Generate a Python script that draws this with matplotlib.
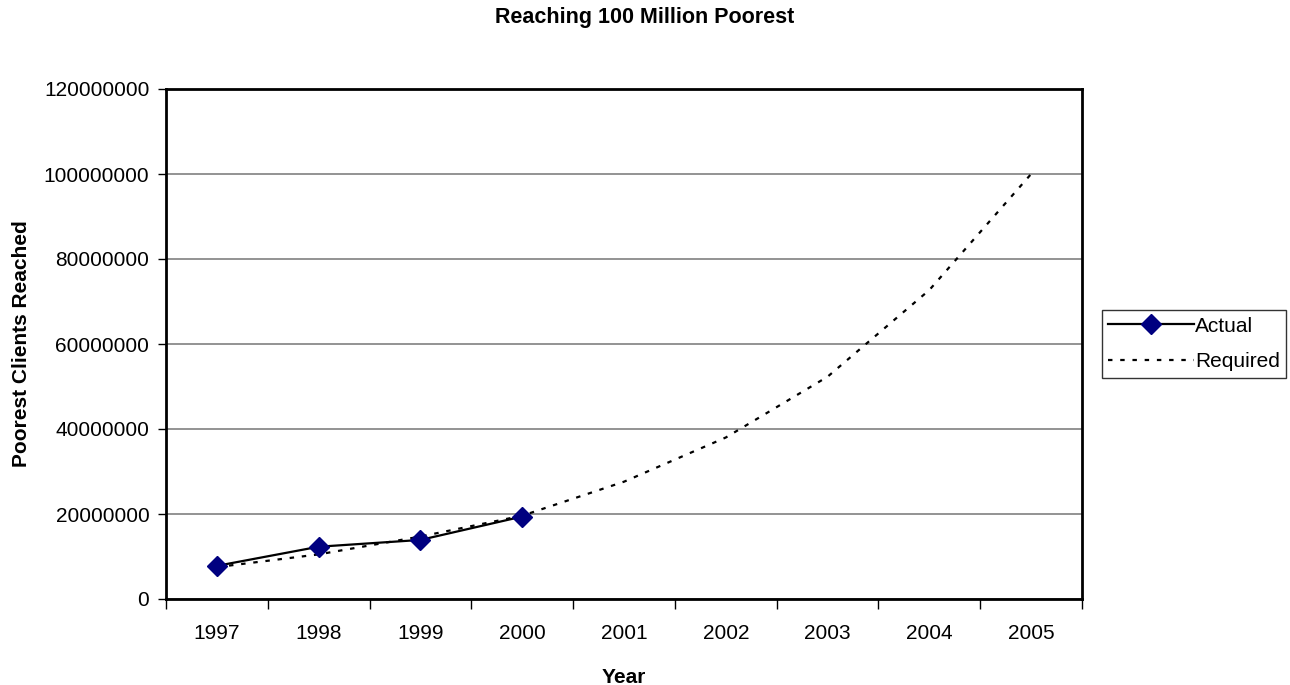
import matplotlib
matplotlib.use("Agg")
import matplotlib.pyplot as plt
from matplotlib.ticker import FixedLocator, NullFormatter

plt.rcParams["font.family"] = ["Liberation Sans", "DejaVu Sans"]

years = ["1997", "1998", "1999", "2000", "2001", "2002", "2003", "2004", "2005"]
actual = [7.8e6, 12.3e6, 13.9e6, 19.4e6]
required = [7.5e6, 10.5e6, 14.7e6, 19.6e6, 27.6e6, 38.0e6, 52.3e6, 72.7e6, 100.0e6]
y_ticks = [0, 20000000, 40000000, 60000000, 80000000, 100000000, 120000000]

fig = plt.figure(figsize=(12.9, 6.85), dpi=100)
ax = fig.add_axes([166 / 1290, 86 / 685, 916 / 1290, 510 / 685])

x_all = range(len(years))
x_act = range(len(actual))

ax.plot(x_act, actual, color="black", lw=1.6, marker="D", markersize=10,
        markerfacecolor="#000080", markeredgecolor="#000080",
        label="Actual", zorder=4)
ax.plot(x_all, required, color="black", lw=1.6, linestyle=(0, (2, 3.5)),
        label="Required", zorder=3)

ax.set_xlim(-0.5, len(years) - 0.5)
ax.set_ylim(0, 120000000)

# category labels centred, tick marks on the boundaries
ax.set_xticks(list(x_all))
ax.set_xticklabels(years, fontsize=15)
ax.tick_params(axis="x", which="major", length=0, pad=18)
ax.xaxis.set_minor_locator(FixedLocator([i - 0.5 for i in range(len(years) + 1)]))
ax.xaxis.set_minor_formatter(NullFormatter())
ax.tick_params(axis="x", which="minor", length=7, width=1, direction="out")

ax.set_yticks(y_ticks)
ax.set_yticklabels([str(v) for v in y_ticks], fontsize=15)
ax.tick_params(axis="y", length=6, width=1, direction="out", pad=6)

ax.grid(axis="y", color="#808080", lw=1.2)
ax.set_axisbelow(True)
for sp in ax.spines.values():
    sp.set_linewidth(2)
    sp.set_color("black")

ax.set_xlabel("Year", fontsize=15, fontweight="bold", labelpad=18)
ax.set_ylabel("Poorest Clients Reached", fontsize=15, fontweight="bold", labelpad=9)
fig.suptitle("Reaching 100 Million Poorest", fontsize=15.5, fontweight="bold", y=0.99)

leg = ax.legend(loc="center left", bbox_to_anchor=(1.022, 0.5), fontsize=15,
                frameon=True, fancybox=False, edgecolor="black", handlelength=4.1,
                handletextpad=0.05, borderpad=0.3, labelspacing=0.8,
                borderaxespad=0)
leg.get_frame().set_linewidth(1)

fig.savefig("out.png", dpi=100)
